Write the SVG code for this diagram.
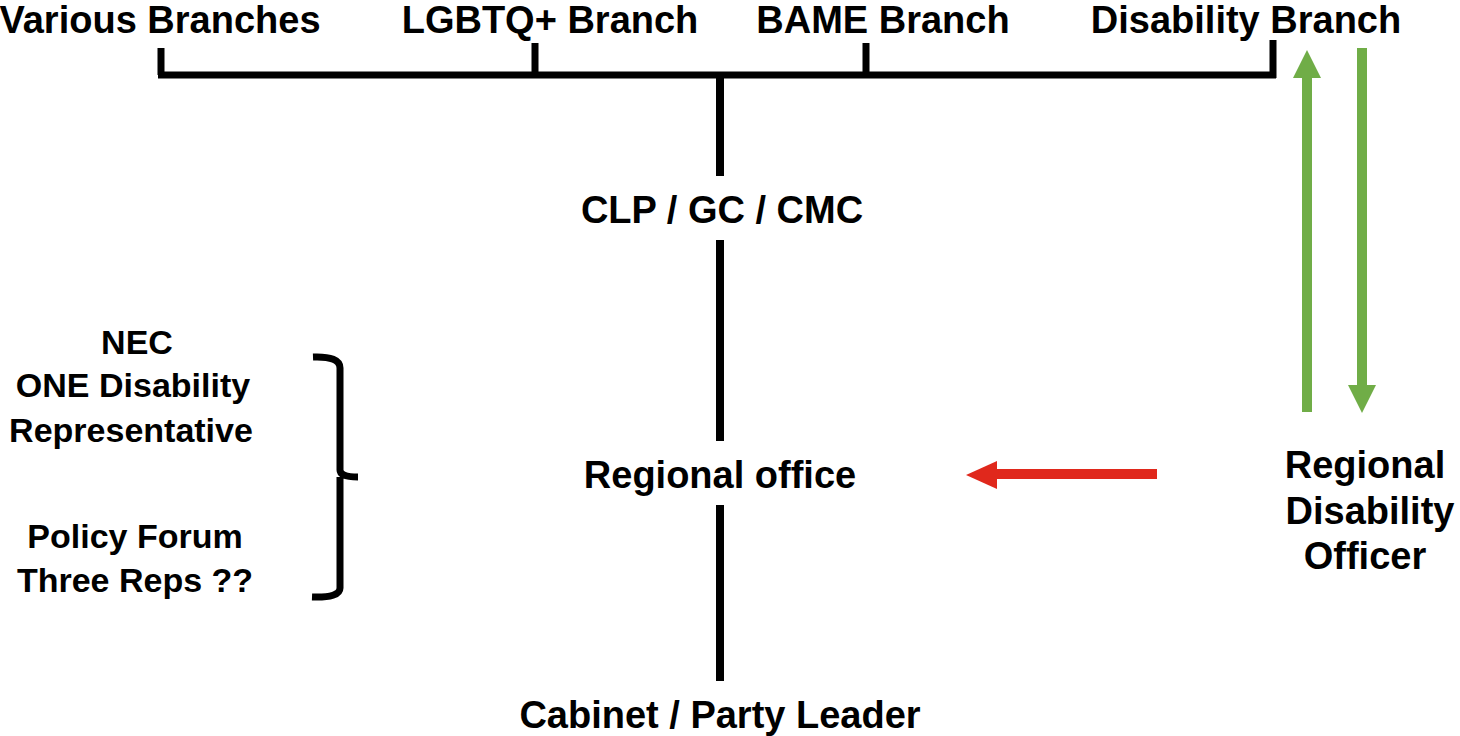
<svg xmlns="http://www.w3.org/2000/svg" width="1460" height="736" viewBox="0 0 1460 736">
<defs>
<style>
text{font-family:"Liberation Sans",Arial,sans-serif;font-weight:bold;fill:#000;}
.big{font-size:38px;}
.mid{font-size:34px;}
.blk{stroke:#000;stroke-width:7;fill:none;stroke-linecap:butt;}
.grn{stroke:#70ad47;stroke-width:10;fill:none;}
.red{stroke:#e0281c;stroke-width:10;fill:none;}
</style>
</defs>
<rect width="1460" height="736" fill="#fff"/>
<g id="connectors">
<path class="blk" d="M161 48 V75 M158 75 H1276 M535 43 V75 M866 43 V75 M1273 40 V78"/>
<path class="blk" d="M720 75 V176 M720 240 V441 M720 505 V681" style="stroke-width:8"/>
<path class="blk" d="M313 357 Q340 356 340 368 V470 Q340 477 358 477 M340 477 V588 Q340 598 312 597"/>
<g id="green-up"><path class="grn" d="M1307 412 V74"/><polygon points="1307,50 1293,78 1321,78" fill="#70ad47"/></g>
<g id="green-down"><path class="grn" d="M1362 48 V388"/><polygon points="1362,413 1348,385 1376,385" fill="#70ad47"/></g>
<g id="red-arrow"><path class="red" d="M1157 474 H994"/><polygon points="966,475 997,461 997,489" fill="#e0281c"/></g>
</g>
<g id="various"><text class="big" x="160" y="33" text-anchor="middle">Various Branches</text></g>
<g id="lgbtq"><text class="big" x="550" y="33" text-anchor="middle">LGBTQ+ Branch</text></g>
<g id="bame"><text class="big" x="883" y="33" text-anchor="middle">BAME Branch</text></g>
<g id="disability"><text class="big" x="1246" y="33" text-anchor="middle">Disability Branch</text></g>
<g id="clp"><text class="big" x="722" y="223" text-anchor="middle">CLP / GC / CMC</text></g>
<g id="regional"><text class="big" x="720" y="488" text-anchor="middle">Regional office</text></g>
<g id="cabinet"><text class="big" x="720" y="728" text-anchor="middle">Cabinet / Party Leader</text></g>
<g id="nec">
<text class="mid" x="137" y="354" text-anchor="middle">NEC</text>
<text class="mid" x="133" y="397" text-anchor="middle">ONE Disability</text>
<text class="mid" x="131" y="442" text-anchor="middle">Representative</text>
<text class="mid" x="135" y="548" text-anchor="middle">Policy Forum</text>
<text class="mid" x="135" y="592" text-anchor="middle">Three Reps ??</text>
</g>
<g id="rdo">
<text class="big" x="1365" y="478" text-anchor="middle">Regional</text>
<text class="big" x="1370" y="524" text-anchor="middle">Disability</text>
<text class="big" x="1365" y="569" text-anchor="middle">Officer</text>
</g>
</svg>
